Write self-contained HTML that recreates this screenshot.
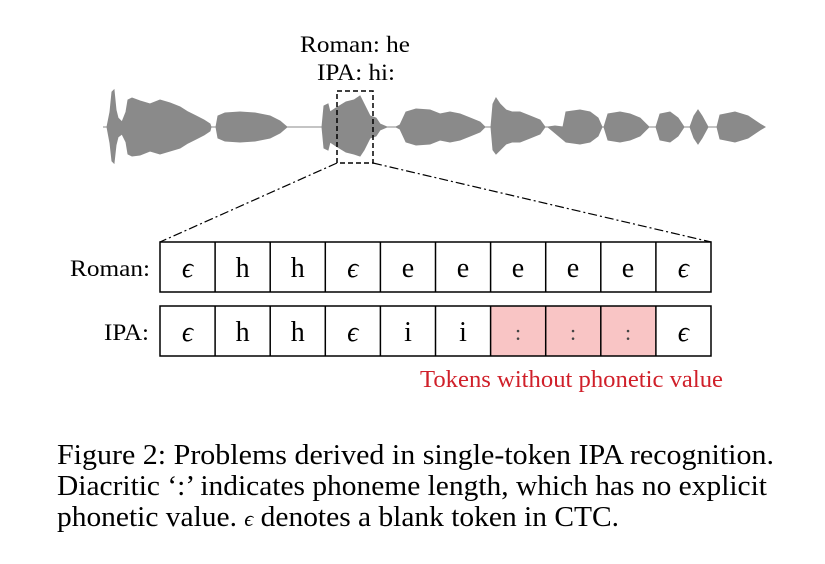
<!DOCTYPE html>
<html><head><meta charset="utf-8"><style>
html,body{margin:0;padding:0;background:#fff;}
svg{display:block;font-family:"Liberation Serif",serif;}
</style></head><body>
<svg width="825" height="564" viewBox="0 0 825 564" xmlns="http://www.w3.org/2000/svg">
<text x="300" y="52" font-size="23" textLength="110" lengthAdjust="spacingAndGlyphs">Roman: he</text>
<text x="317" y="80" font-size="23" textLength="78" lengthAdjust="spacingAndGlyphs">IPA: hi:</text>
<g fill="#8a8a8a" stroke="#8a8a8a" stroke-width="1">
<line x1="103" y1="127" x2="765" y2="127"/>
<path d="M107,127 L110,112 112,92 114,90 116,110 118,118 122,122 126,112 128,100 132,98 140,101 150,104 160,100 170,103 180,107 188,112 196,116 204,120 210,124 211,127 210,131 204,135 196,139 188,143 180,148 170,151 160,154 150,151 140,155 132,156 128,154 126,142 122,134 118,137 116,145 114,163 112,161 110,143 Z"/>
<path d="M216,127 L218,116 225,113 240,112 255,113 270,116 280,121 287,127 280,133 270,138 255,141 240,142 225,141 218,138 Z"/>
<path d="M322,127 L324,106 328,104 330,112 336,108 346,102 354,100 360,96 364,104 370,116 376,118 380,124 387,127 380,130 376,136 370,138 364,150 360,156 354,154 346,152 336,146 330,142 328,150 324,148 Z"/>
<path d="M396,127 L400,125 406,112 416,109 430,110 440,114 450,112 460,114 470,118 480,122 485,127 480,132 470,136 460,140 450,142 440,140 430,144 416,145 406,142 400,129 Z"/>
<path d="M491,127 L493,104 496,98 500,104 506,110 512,112 520,112 530,116 540,120 545,127 540,134 530,138 520,142 512,142 506,144 500,150 496,154 493,150 Z"/>
<path d="M548,127 L555,126 563,127 566,112 580,110 590,112 598,118 602,127 598,136 590,142 580,144 566,142 Z"/>
<path d="M604,127 L608,114 620,112 630,114 640,118 649,127 640,136 630,140 620,142 608,140 Z"/>
<path d="M656,127 L660,114 670,112 678,118 684,127 678,136 670,142 660,140 Z"/>
<path d="M690,127 L694,116 698,110 702,116 708,127 702,138 698,144 694,138 Z"/>
<path d="M717,127 L720,115 735,112 748,116 760,124 765,127 760,130 748,138 735,142 720,139 Z"/>
</g>
<rect x="337" y="91" width="36" height="72" fill="none" stroke="#000" stroke-width="1.5" stroke-dasharray="5,3"/>
<line x1="337" y1="163" x2="160" y2="242" stroke="#000" stroke-width="1.2" stroke-dasharray="9,3,2,3"/>
<line x1="373" y1="163" x2="711" y2="242" stroke="#000" stroke-width="1.2" stroke-dasharray="9,3,2,3"/>
<rect x="490.6" y="306" width="165.3" height="50" fill="#f9c5c5"/>
<g fill="none" stroke="#000" stroke-width="1.5">
<rect x="160" y="242" width="551" height="50"/>
<rect x="160" y="306" width="551" height="50"/>
<path d="M215.1,242V292M270.2,242V292M325.3,242V292M380.4,242V292M435.5,242V292M490.6,242V292M545.7,242V292M600.8,242V292M655.9,242V292"/>
<path d="M215.1,306V356M270.2,306V356M325.3,306V356M380.4,306V356M435.5,306V356M490.6,306V356M545.7,306V356M600.8,306V356M655.9,306V356"/>
</g>
<text x="70" y="276" font-size="23" textLength="80" lengthAdjust="spacingAndGlyphs">Roman:</text>
<text x="104" y="340" font-size="23" textLength="45" lengthAdjust="spacingAndGlyphs">IPA:</text>
<g font-size="28" text-anchor="middle">
<text x="187.5" y="277" font-style="italic">ϵ</text><text x="242.6" y="277">h</text><text x="297.7" y="277">h</text><text x="352.8" y="277" font-style="italic">ϵ</text><text x="408" y="277">e</text><text x="463" y="277">e</text><text x="518" y="277">e</text><text x="573" y="277">e</text><text x="628" y="277">e</text><text x="683.4" y="277" font-style="italic">ϵ</text>
<text x="187.5" y="341" font-style="italic">ϵ</text><text x="242.6" y="341">h</text><text x="297.7" y="341">h</text><text x="352.8" y="341" font-style="italic">ϵ</text><text x="408" y="341">i</text><text x="463" y="341">i</text><text x="518" y="340" font-size="22" fill="#444">:</text><text x="573" y="340" font-size="22" fill="#444">:</text><text x="628" y="340" font-size="22" fill="#444">:</text><text x="683.4" y="341" font-style="italic">ϵ</text>
</g>
<text x="420" y="387" font-size="24" fill="#d0202a" textLength="303" lengthAdjust="spacingAndGlyphs">Tokens without phonetic value</text>
<g font-size="29">
<text x="57" y="464" textLength="717" lengthAdjust="spacingAndGlyphs">Figure 2: Problems derived in single-token IPA recognition.</text>
<text x="57" y="495" textLength="710" lengthAdjust="spacingAndGlyphs">Diacritic ‘:’ indicates phoneme length, which has no explicit</text>
<text x="57" y="526" textLength="562" lengthAdjust="spacingAndGlyphs">phonetic value. <tspan font-style="italic" font-size="22">ϵ</tspan> denotes a blank token in CTC.</text>
</g>
</svg>
</body></html>
